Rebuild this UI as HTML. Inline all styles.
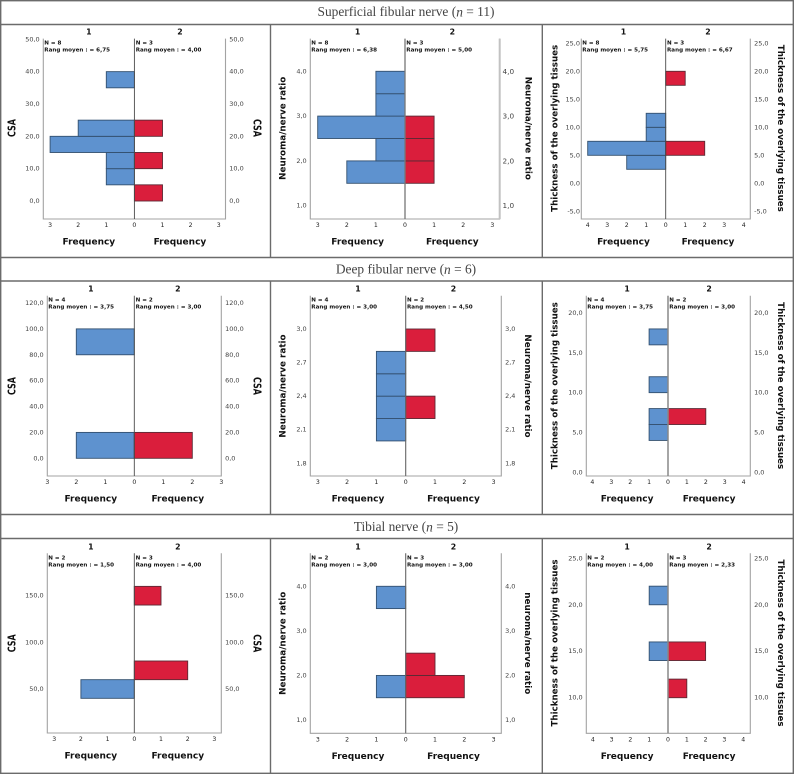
<!DOCTYPE html>
<html lang="en">
<head>
<meta charset="utf-8">
<title>Population pyramids of nerve measurements</title>
<style>
html,body{margin:0;padding:0;background:#fff;width:794px;height:774px;overflow:hidden}
svg{display:block}
text{font-family:"DejaVu Sans","Liberation Sans",sans-serif}
.row-title{font-family:"Liberation Serif",serif;font-size:13.4px;fill:#444;text-anchor:middle;dominant-baseline:central}
.charts{filter:blur(.3px)}
</style>
</head>
<body>
<svg id="figure" xmlns="http://www.w3.org/2000/svg" width="794" height="774" viewBox="0 0 794 774">
  <rect x="0" y="0" width="794" height="774" fill="#fff"/>
  <g stroke="#6b6b6b" stroke-width="1.4" fill="none">
    <rect x="0.7" y="0.7" width="792.6" height="772.6"/>
    <line x1="0" x2="794" y1="24.5" y2="24.5"/>
    <line x1="0" x2="794" y1="257.5" y2="257.5"/>
    <line x1="0" x2="794" y1="281" y2="281"/>
    <line x1="0" x2="794" y1="514.5" y2="514.5"/>
    <line x1="0" x2="794" y1="538.5" y2="538.5"/>
    <line x1="270.5" x2="270.5" y1="24.5" y2="257.5"/>
    <line x1="542.3" x2="542.3" y1="24.5" y2="257.5"/>
    <line x1="270.5" x2="270.5" y1="281" y2="514.5"/>
    <line x1="542.3" x2="542.3" y1="281" y2="514.5"/>
    <line x1="270.5" x2="270.5" y1="538.5" y2="774"/>
    <line x1="542.3" x2="542.3" y1="538.5" y2="774"/>
  </g>
  <text class="row-title" x="406" y="11.7">Superficial fibular nerve (<tspan font-style="italic">n</tspan> = 11)</text>
  <text class="row-title" x="406" y="269">Deep fibular nerve (<tspan font-style="italic">n</tspan> = 6)</text>
  <text class="row-title" x="406" y="526.3">Tibial nerve (<tspan font-style="italic">n</tspan> = 5)</text>
  <g id="charts" class="charts"></g>
</svg>
<script>
// Superficial fibular nerve: CSA
const a1Ticks = [0, 10, 20, 30, 40, 50];
const a1BinWidth = 5;
const a1Bins1 = [5, 10, 15, 20, 35];
const a1Counts1 = [1, 1, 3, 2, 1];
const a1Bins2 = [0, 10, 20];
const a1Counts2 = [1, 1, 1];
const a1FreqTicks = [0, 1, 2, 3];
const a1Stats = ["N = 8", "Rang moyen : = 6,75", "N = 3", "Rang moyen : = 4,00"];
// Superficial fibular nerve: ratio
const a2Ticks = [1, 2, 3, 4];
const a2BinWidth = 0.5;
const a2Bins1 = [1.5, 2, 2.5, 3, 3.5];
const a2Counts1 = [2, 1, 3, 1, 1];
const a2Bins2 = [1.5, 2, 2.5];
const a2Counts2 = [1, 1, 1];
const a2FreqTicks = [0, 1, 2, 3];
const a2Stats = ["N = 8", "Rang moyen : = 6,38", "N = 3", "Rang moyen : = 5,00"];
// Superficial fibular nerve: thickness
const a3Ticks = [-5, 0, 5, 10, 15, 20, 25];
const a3BinWidth = 2.5;
const a3Bins1 = [2.5, 5, 7.5, 10];
const a3Counts1 = [2, 4, 1, 1];
const a3Bins2 = [5, 17.5];
const a3Counts2 = [2, 1];
const a3FreqTicks = [0, 1, 2, 3, 4];
const a3Stats = ["N = 8", "Rang moyen : = 5,75", "N = 3", "Rang moyen : = 6,67"];
// Deep fibular nerve: CSA
const b1Ticks = [0, 20, 40, 60, 80, 100, 120];
const b1BinWidth = 20;
const b1Bins1 = [0, 80];
const b1Counts1 = [2, 2];
const b1Bins2 = [0];
const b1Counts2 = [2];
const b1FreqTicks = [0, 1, 2, 3];
const b1Stats = ["N = 4", "Rang moyen : = 3,75", "N = 2", "Rang moyen : = 3,00"];
// Deep fibular nerve: ratio
const b2Ticks = [1.8, 2.1, 2.4, 2.7, 3.0];
const b2BinWidth = 0.2;
const b2Bins1 = [2.0, 2.2, 2.4, 2.6];
const b2Counts1 = [1, 1, 1, 1];
const b2Bins2 = [2.2, 2.8];
const b2Counts2 = [1, 1];
const b2FreqTicks = [0, 1, 2, 3];
const b2Stats = ["N = 4", "Rang moyen : = 3,00", "N = 2", "Rang moyen : = 4,50"];
// Deep fibular nerve: thickness
const b3Ticks = [0, 5, 10, 15, 20];
const b3BinWidth = 2;
const b3Bins1 = [4, 6, 10, 16];
const b3Counts1 = [1, 1, 1, 1];
const b3Bins2 = [6];
const b3Counts2 = [2];
const b3FreqTicks = [0, 1, 2, 3, 4];
const b3Stats = ["N = 4", "Rang moyen : = 3,75", "N = 2", "Rang moyen : = 3,00"];
// Tibial nerve: CSA
const c1Ticks = [50, 100, 150];
const c1BinWidth = 20;
const c1Bins1 = [40];
const c1Counts1 = [2];
const c1Bins2 = [60, 140];
const c1Counts2 = [2, 1];
const c1FreqTicks = [0, 1, 2, 3];
const c1Stats = ["N = 2", "Rang moyen : = 1,50", "N = 3", "Rang moyen : = 4,00"];
// Tibial nerve: ratio
const c2Ticks = [1, 2, 3, 4];
const c2BinWidth = 0.5;
const c2Bins1 = [1.5, 3.5];
const c2Counts1 = [1, 1];
const c2Bins2 = [1.5, 2];
const c2Counts2 = [2, 1];
const c2FreqTicks = [0, 1, 2, 3];
const c2Stats = ["N = 2", "Rang moyen : = 3,00", "N = 3", "Rang moyen : = 3,00"];
// Tibial nerve: thickness
const c3Ticks = [10, 15, 20, 25];
const c3BinWidth = 2;
const c3Bins1 = [14, 20];
const c3Counts1 = [1, 1];
const c3Bins2 = [10, 14];
const c3Counts2 = [1, 2];
const c3FreqTicks = [0, 1, 2, 3, 4];
const c3Stats = ["N = 2", "Rang moyen : = 4,00", "N = 3", "Rang moyen : = 2,33"];

const NS = "http://www.w3.org/2000/svg";
const root = document.getElementById("charts");

function svgEl(tag, parent, attrs) {
  const el = document.createElementNS(NS, tag);
  for (const k in attrs) el.setAttribute(k, attrs[k]);
  parent.appendChild(el);
  return el;
}
function fmt(v) {
  return v.toFixed(1).replace(".", ",");
}

function drawPanel(p) {
  const g = svgEl("g", root, {});
  
  

  const k = (p.py[1] - p.py[0]) / (p.vy[1] - p.vy[0]);
  const yScale = v => p.py[0] + (v - p.vy[0]) * k;
  const xLeft = c => p.center - c * p.unit;
  const xRight = c => p.center + c * p.unit;

  // frame axes
  const axisColor = "#a3a3a3";
  const frame = svgEl("path", g, {
    d: "M" + p.left + " " + p.top + "V" + p.bottom + "H" + p.right + "V" + p.top,
    fill: "none", stroke: axisColor, "stroke-width": p.frameW || 1.1
  });
  
  
  if (p.rightAxisW) {
    const ra = svgEl("line", g, {
      x1: p.right, x2: p.right, y1: p.top, y2: p.bottom,
      stroke: "#c2c2c2", "stroke-width": p.rightAxisW
    });
    
    
  }

  // bars, group 1
  p.bins1.forEach((b, i) => {
    const r = svgEl("rect", g, {
      x: xLeft(p.counts1[i]), y: yScale(b + p.binWidth),
      width: xLeft(0) - xLeft(p.counts1[i]),
      height: yScale(b) - yScale(b + p.binWidth),
      fill: "#5e92cf", stroke: "#33506f", "stroke-width": 0.9
    });
    
    
  });
  // bars, group 2
  p.bins2.forEach((b, i) => {
    const r = svgEl("rect", g, {
      x: xRight(0), y: yScale(b + p.binWidth),
      width: xRight(p.counts2[i]) - xRight(0),
      height: yScale(b) - yScale(b + p.binWidth),
      fill: "#da1e3c", stroke: "#5c2a35", "stroke-width": 0.9
    });
    
    
  });

  // centre line
  const cl = svgEl("line", g, {
    x1: p.center, x2: p.center, y1: p.top, y2: p.bottom,
    stroke: p.centerColor || "#4a4a4a", "stroke-width": p.centerW || 0.9
  });
  
  

  // value ticks on both sides
  p.ticks.forEach(v => {
    const tl = svgEl("text", g, {
      x: p.left - (p.leftGap === undefined ? 3.6 : p.leftGap), y: yScale(v),
      "text-anchor": "end", "dominant-baseline": "central",
      "font-size": 6.5, fill: "#444"
    });
    tl.textContent = fmt(v);
    
    
    const tr = svgEl("text", g, {
      x: p.right + (p.rightGap === undefined ? 3.8 : p.rightGap), y: yScale(v),
      "text-anchor": "start", "dominant-baseline": "central",
      "font-size": p.rightTickSize || 6.5, fill: "#444"
    });
    tr.textContent = fmt(v);
    
    
  });

  // frequency ticks
  p.freqTicks.forEach(c => {
    const positions = c === 0 ? [xLeft(0)] : [xLeft(c), xRight(c)];
    positions.forEach(px => {
      const t = svgEl("text", g, {
        x: px, y: p.bottom + 6.5, "text-anchor": "middle",
        "dominant-baseline": "central", "font-size": 6.2, fill: "#222"
      });
      t.textContent = String(c);
      
      
    });
  });

  const midL = (p.left + p.center) / 2;
  const midR = (p.right + p.center) / 2;

  // group headers and frequency titles
  [["1", midL], ["2", midR]].forEach(h => {
    const t = svgEl("text", g, {
      x: h[1], y: p.top - 6.5, "text-anchor": "middle",
      "dominant-baseline": "central", "font-size": 7.8, "font-weight": "bold", fill: "#111"
    });
    t.textContent = h[0];
    
    
    const f = svgEl("text", g, {
      x: h[1], y: p.bottom + 23.7, "text-anchor": "middle",
      "dominant-baseline": "central", "font-size": 9, "font-weight": "bold", fill: "#111"
    });
    f.textContent = "Frequency";
    
    
  });

  // stats text
  [[p.stats[0], p.left + 1, 5], [p.stats[1], p.left + 1, 12],
   [p.stats[2], p.center + 1.3, 5], [p.stats[3], p.center + 1.3, 12]].forEach(s => {
    const t = svgEl("text", g, {
      x: s[1], y: p.top + s[2], "dominant-baseline": "central",
      "font-size": 5.6, "font-weight": "bold", fill: "#111"
    });
    t.textContent = s[0];
    
    
  });

  // y axis titles
  const fit = p.titleFit ? { textLength: p.titleFit, lengthAdjust: "spacingAndGlyphs" } : {};
  const lt = svgEl("text", g, Object.assign({
    transform: "translate(" + p.titleL + " " + p.titleY + ") rotate(-90)",
    "text-anchor": "middle", "dominant-baseline": "central",
    "font-size": p.titleSize, "font-weight": "bold", fill: "#111"
  }, fit));
  lt.textContent = p.title;
  
  
  const rt = svgEl("text", g, Object.assign({
    transform: "translate(" + p.titleR + " " + p.titleY + ") rotate(90)",
    "text-anchor": "middle", "dominant-baseline": "central",
    "font-size": p.titleSize, "font-weight": "bold", fill: "#111"
  }, fit));
  rt.textContent = p.titleRight || p.title;
  
  
}

const CSA = "CSA";
const RATIO = "Neuroma/nerve ratio";
const THICK = "Thickness of the overlying tissues";

drawPanel({id:"a1", left:43.3, right:225.5, center:134.4, top:38.6, bottom:219, unit:28.1, vy:[0,50], py:[201,39.3],
  ticks:a1Ticks, binWidth:a1BinWidth, bins1:a1Bins1, counts1:a1Counts1, bins2:a1Bins2, counts2:a1Counts2, freqTicks:a1FreqTicks, stats:a1Stats,
  title:CSA, titleSize:10.5, titleFit:18, titleL:12.3, titleR:256.7, titleY:128});
drawPanel({id:"a2", left:310.3, right:499.7, center:405, top:38.6, bottom:219, unit:29.1, vy:[1,4], py:[205.7,71.3],
  ticks:a2Ticks, binWidth:a2BinWidth, bins1:a2Bins1, counts1:a2Counts1, bins2:a2Bins2, counts2:a2Counts2, freqTicks:a2FreqTicks, stats:a2Stats,
  title:RATIO, titleSize:8.8, titleL:283.3, titleR:527.3, titleY:128.3, rightTickSize:7.3, rightGap:2.8, centerW:1.3, centerColor:"#777", rightAxisW:2});
drawPanel({id:"a3", left:581.3, right:750.3, center:665.7, top:38.6, bottom:219, unit:19.5, vy:[-5,25], py:[211.3,43.3],
  ticks:a3Ticks, binWidth:a3BinWidth, bins1:a3Bins1, counts1:a3Counts1, bins2:a3Bins2, counts2:a3Counts2, freqTicks:a3FreqTicks, stats:a3Stats,
  title:THICK, titleSize:8.7, titleL:555.7, titleR:780, titleY:128.3, leftGap:1.3});
drawPanel({id:"b1", left:47.3, right:221.3, center:134.3, top:295.7, bottom:476, unit:29, vy:[0,120], py:[458.3,303],
  ticks:b1Ticks, binWidth:b1BinWidth, bins1:b1Bins1, counts1:b1Counts1, bins2:b1Bins2, counts2:b1Counts2, freqTicks:b1FreqTicks, stats:b1Stats,
  title:CSA, titleSize:10.5, titleFit:18, titleL:12.7, titleR:256.7, titleY:386});
drawPanel({id:"b2", left:310.3, right:501.3, center:405.7, top:295.7, bottom:476, unit:29.3, vy:[1.8,3], py:[463.3,329],
  ticks:b2Ticks, binWidth:b2BinWidth, bins1:b2Bins1, counts1:b2Counts1, bins2:b2Bins2, counts2:b2Counts2, freqTicks:b2FreqTicks, stats:b2Stats,
  title:RATIO, titleSize:8.8, titleL:283.3, titleR:527, titleY:386, centerColor:"#666", centerW:1.1});
drawPanel({id:"b3", left:586.3, right:750.3, center:668, top:295.7, bottom:476, unit:18.9, vy:[0,20], py:[472.3,313],
  ticks:b3Ticks, binWidth:b3BinWidth, bins1:b3Bins1, counts1:b3Counts1, bins2:b3Bins2, counts2:b3Counts2, freqTicks:b3FreqTicks, stats:b3Stats,
  title:THICK, titleSize:8.7, titleL:555.7, titleR:780, titleY:385.7, centerColor:"#888", centerW:1.5});
drawPanel({id:"c1", left:47.3, right:221.3, center:134.3, top:553.3, bottom:733, unit:26.7, vy:[50,150], py:[689,595.7],
  ticks:c1Ticks, binWidth:c1BinWidth, bins1:c1Bins1, counts1:c1Counts1, bins2:c1Bins2, counts2:c1Counts2, freqTicks:c1FreqTicks, stats:c1Stats,
  title:CSA, titleSize:10.5, titleFit:18, titleL:12.7, titleR:256.7, titleY:643.3});
drawPanel({id:"c2", left:310.3, right:501.3, center:405.7, top:553.3, bottom:733.3, unit:29.3, vy:[1,4], py:[720,586.3],
  ticks:c2Ticks, binWidth:c2BinWidth, bins1:c2Bins1, counts1:c2Counts1, bins2:c2Bins2, counts2:c2Counts2, freqTicks:c2FreqTicks, stats:c2Stats,
  title:RATIO, titleRight:"neuroma/nerve ratio", titleSize:8.8, titleL:283.3, titleR:527, titleY:643.3, centerColor:"#666", centerW:1.1});
drawPanel({id:"c3", left:586.3, right:750.3, center:668, top:553.3, bottom:733.3, unit:18.8, vy:[10,25], py:[697.7,558.3],
  ticks:c3Ticks, binWidth:c3BinWidth, bins1:c3Bins1, counts1:c3Counts1, bins2:c3Bins2, counts2:c3Counts2, freqTicks:c3FreqTicks, stats:c3Stats,
  title:THICK, titleSize:8.7, titleL:555.7, titleR:780, titleY:643, centerColor:"#888", centerW:1.5});
</script>
</body>
</html>
